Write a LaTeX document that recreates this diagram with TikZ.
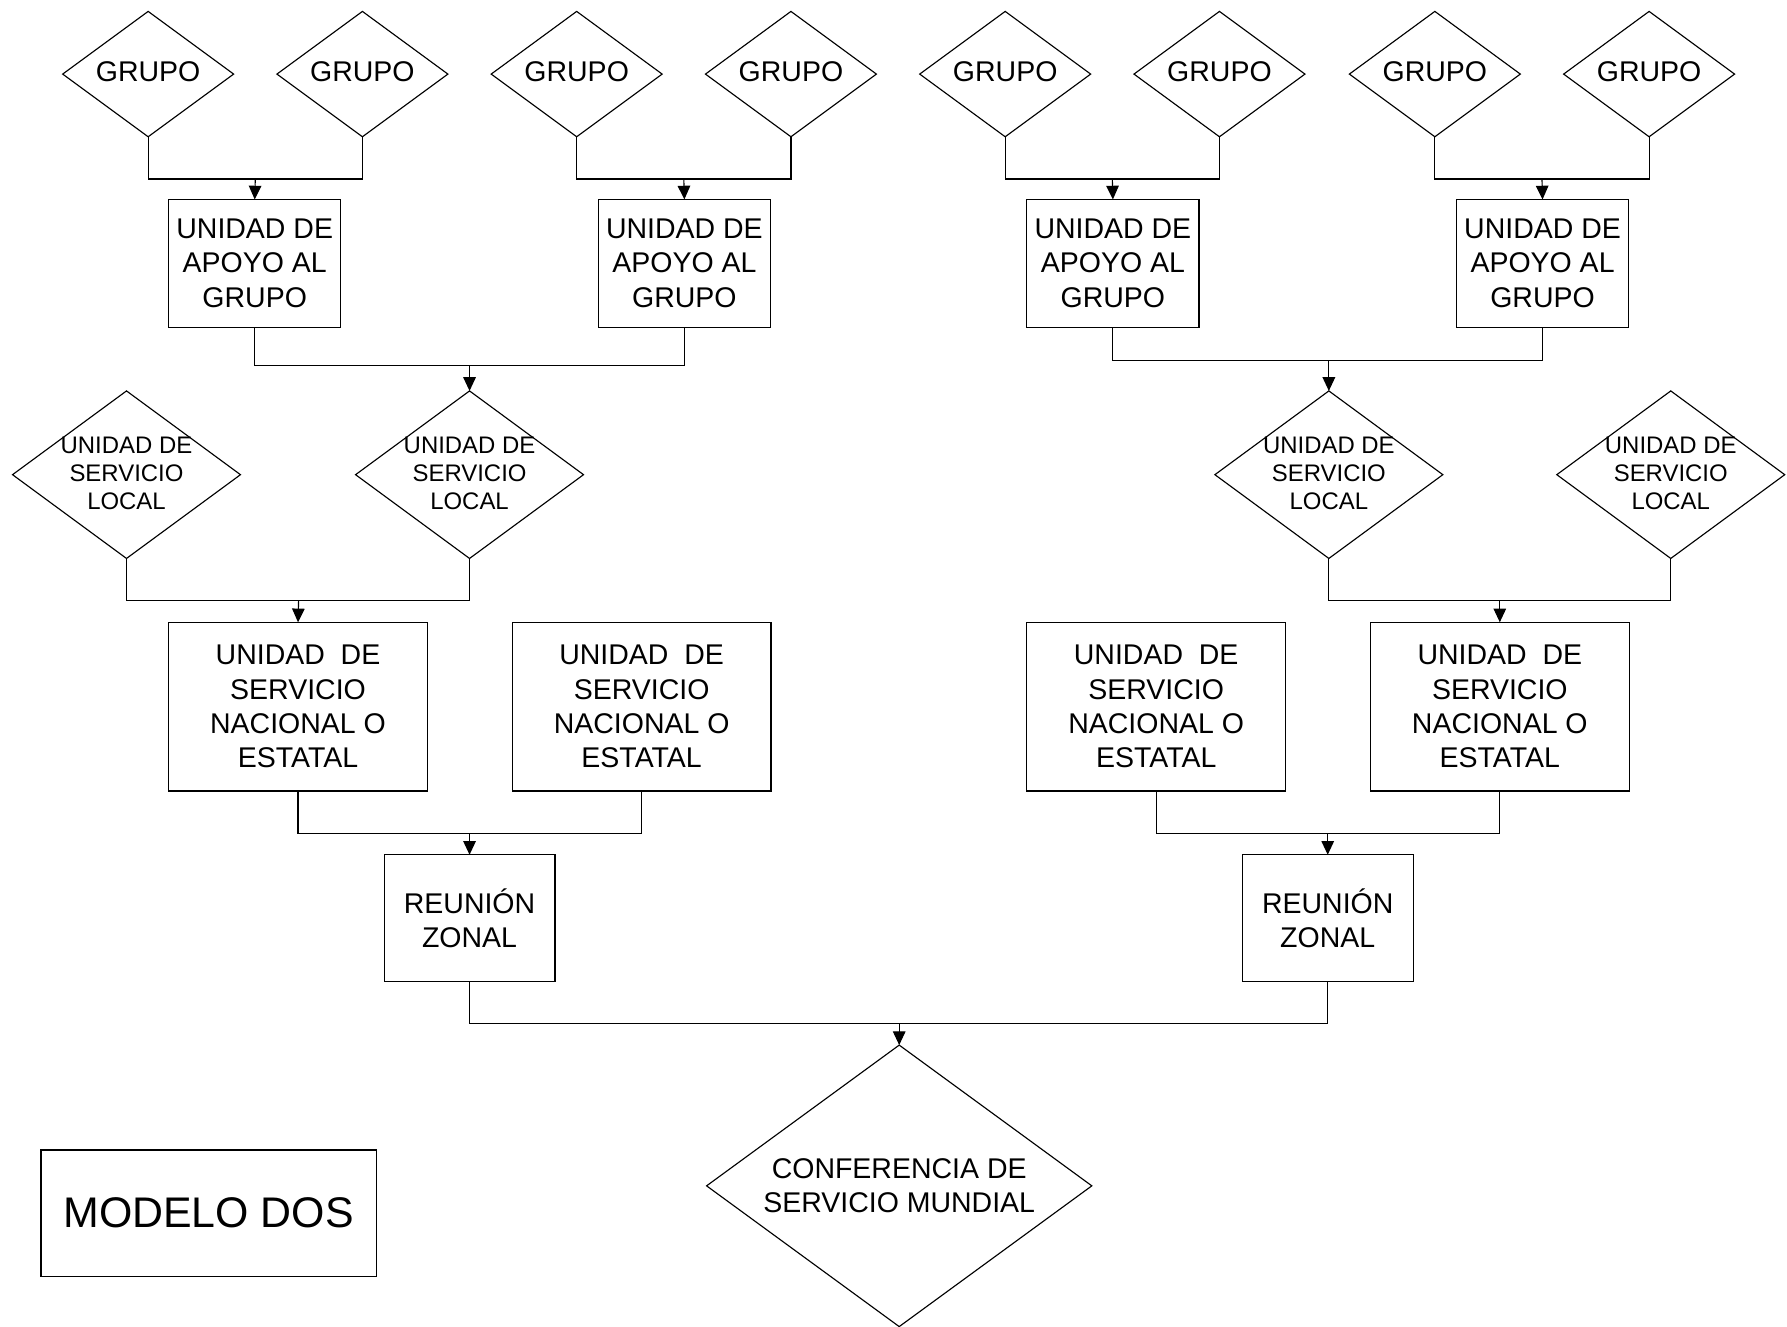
\documentclass[tikz,border=0pt]{standalone}
\usepackage{fontspec}
\setmainfont{Liberation Sans}
\usetikzlibrary{shapes.geometric,arrows.meta}
\begin{document}
\begin{tikzpicture}[x=0.5pt,y=-0.5pt,
  every node/.style={inner sep=0pt, outer sep=0pt},
  ln/.style={line width=0.5pt, draw=black},
  arr/.style={ln, -{Triangle[length=6pt,width=5.5pt]}},
  rbox/.style={draw, line width=0.5pt, align=center, font=\fontsize{12.5}{15}\selectfont},
  uag/.style={rbox, minimum width=75.5pt, minimum height=56pt},
  usne/.style={rbox, minimum width=113.5pt, minimum height=74pt},
  rz/.style={rbox, minimum width=75pt, minimum height=55.5pt},
  dia/.style={draw, diamond, line width=0.5pt},
  gdia/.style={dia, minimum width=75pt, minimum height=55pt},
  ldia/.style={dia, minimum width=100pt, minimum height=73.5pt},
  cdia/.style={dia, minimum width=169pt, minimum height=123.5pt},
  txtA/.style={align=center, font=\fontsize{12.5}{15}\selectfont},
  txtB/.style={align=center, font=\fontsize{10.5}{12.25}\selectfont},
  txtC/.style={align=center, font=\fontsize{18.8}{22}\selectfont}
]
\useasboundingbox[fill=white] (0,0) rectangle (1568,1164);

% GRUPO diamonds
\foreach \i/\x in {1/130,2/318,3/506,4/694,5/882,6/1070,7/1259,8/1447}{
  \node[gdia] (g\i) at (\x,65) {};
  \node[txtA] (g\i t) at (\x,63) {GRUPO};
}

% Unidad de apoyo al grupo
\node[uag] (u1) at (223.5,231) {UNIDAD DE\\APOYO AL\\GRUPO};
\node[uag] (u2) at (600.5,231) {UNIDAD DE\\APOYO AL\\GRUPO};
\node[uag] (u3) at (976.5,231) {UNIDAD DE\\APOYO AL\\GRUPO};
\node[uag] (u4) at (1353.5,231) {UNIDAD DE\\APOYO AL\\GRUPO};

% Unidad de servicio local diamonds
\foreach \i/\x in {1/111,2/412,3/1166,4/1466}{
  \node[ldia] (l\i) at (\x,416.5) {};
  \node[txtB] (l\i t) at (\x,415.5) {UNIDAD DE\\SERVICIO\\LOCAL};
}

% Unidad de servicio nacional o estatal
\node[usne] (n1) at (261.5,620) {UNIDAD\ \ DE\\SERVICIO\\NACIONAL O\\ESTATAL};
\node[usne] (n2) at (563,620) {UNIDAD\ \ DE\\SERVICIO\\NACIONAL O\\ESTATAL};
\node[usne] (n3) at (1014.5,620) {UNIDAD\ \ DE\\SERVICIO\\NACIONAL O\\ESTATAL};
\node[usne] (n4) at (1316,620) {UNIDAD\ \ DE\\SERVICIO\\NACIONAL O\\ESTATAL};

% Reunion zonal
\node[rz] (r1) at (412,805.5) {REUNIÓN\\ZONAL};
\node[rz] (r2) at (1165,805.5) {REUNIÓN\\ZONAL};

% Conferencia
\node[cdia] (c) at (789,1040.5) {};
\node[txtA] (ct) at (789,1040.5) {CONFERENCIA DE\\SERVICIO MUNDIAL};

% Modelo dos
\node[draw, line width=0.5pt, minimum width=147pt, minimum height=55.5pt, txtC] (m) at (183,1064.5) {MODELO DOS};

% junctions
\coordinate (j1) at (224,157);
\coordinate (j2) at (600,157);
\coordinate (j3) at (976,157);
\coordinate (j4) at (1353,157);
\coordinate (k1) at (412,321);
\coordinate (k2) at (1166,316);
\coordinate (p1) at (262,527);
\coordinate (p2) at (1316,527);
\coordinate (q1) at (412,731);
\coordinate (q2) at (1165,731);
\coordinate (z) at (789,898);

% GRUPO -> UAG
\draw[ln] (g1.south) |- (j1) -| (g2.south);
\draw[arr] (j1) -- (u1.north);
\draw[ln] (g3.south) |- (j2) -| (g4.south);
\draw[arr] (j2) -- (u2.north);
\draw[ln] (g5.south) |- (j3) -| (g6.south);
\draw[arr] (j3) -- (u3.north);
\draw[ln] (g7.south) |- (j4) -| (g8.south);
\draw[arr] (j4) -- (u4.north);

% UAG -> USL
\draw[ln] (u1.south) |- (k1) -| (u2.south);
\draw[arr] (k1) -- (l2.north);
\draw[ln] (u3.south) |- (k2) -| (u4.south);
\draw[arr] (k2) -- (l3.north);

% USL -> USNE
\draw[ln] (l1.south) |- (p1) -| (l2.south);
\draw[arr] (p1) -- (n1.north);
\draw[ln] (l3.south) |- (p2) -| (l4.south);
\draw[arr] (p2) -- (n4.north);

% USNE -> RZ
\draw[ln] (n1.south) |- (q1) -| (n2.south);
\draw[arr] (q1) -- (r1.north);
\draw[ln] (n3.south) |- (q2) -| (n4.south);
\draw[arr] (q2) -- (r2.north);

% RZ -> CSM
\draw[ln] (r1.south) |- (z) -| (r2.south);
\draw[arr] (z) -- (c.north);
\end{tikzpicture}
\end{document}
